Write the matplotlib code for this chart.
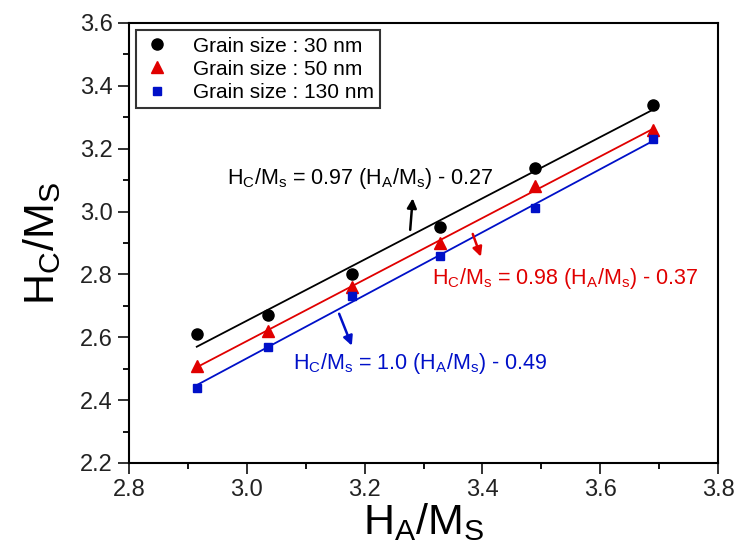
import numpy as np
import matplotlib
matplotlib.use("Agg")
import matplotlib.pyplot as plt

plt.rcParams['font.family'] = ['Liberation Sans', 'DejaVu Sans']
plt.rcParams['mathtext.fontset'] = 'custom'
plt.rcParams['mathtext.rm'] = 'Liberation Sans'
plt.rcParams['mathtext.it'] = 'Liberation Sans:italic'

# data
ha_ms = [2.915, 3.036, 3.179, 3.328, 3.489, 3.69]
hc_30 = [2.61, 2.67, 2.80, 2.95, 3.14, 3.34]
hc_50 = [2.51, 2.62, 2.76, 2.90, 3.08, 3.26]
hc_130 = [2.44, 2.57, 2.73, 2.86, 3.01, 3.23]

labels = ['Grain size : 30 nm', 'Grain size : 50 nm', 'Grain size : 130 nm']
fit_texts = [r'$\mathrm{H_C/M_s}$ = 0.97 ($\mathrm{H_A/M_s}$) - 0.27',
             r'$\mathrm{H_C/M_s}$ = 0.98 ($\mathrm{H_A/M_s}$) - 0.37',
             r'$\mathrm{H_C/M_s}$ = 1.0 ($\mathrm{H_A/M_s}$) - 0.49']

fig = plt.figure(figsize=(7.39, 5.55), dpi=100)
ax = fig.add_axes([0.1746, 0.1658, 0.797, 0.7928])

x = np.array(ha_ms)
series = [(hc_30, 'black', 'o', 8), (hc_50, '#e00000', '^', 8), (hc_130, '#0010c8', 's', 6)]
for (ys, c, m, ms), lab in zip(series, labels):
    ax.plot(x, ys, linestyle='none', marker=m, color=c, markersize=ms, label=lab)
    # linear fit line
    k, b = np.polyfit(x, ys, 1)
    ax.plot(x[[0, -1]], k * x[[0, -1]] + b, color=c, linewidth=1.3)

# equations with arrows
fs = 15.5
arr = dict(arrowstyle='-|>', lw=1.8, mutation_scale=14)
ax.annotate('', xy=(3.282, 3.051), xytext=(3.277, 2.933),
            arrowprops=dict(arr, color='black'))
ax.text(2.966, 3.105, fit_texts[0], color='black', fontsize=fs, va='center')

ax.annotate('', xy=(3.399, 2.848), xytext=(3.382, 2.937),
            arrowprops=dict(arr, color='#e00000'))
ax.text(3.314, 2.787, fit_texts[1], color='#e00000', fontsize=fs, va='center', clip_on=False)

ax.annotate('', xy=(3.180, 2.565), xytext=(3.155, 2.683),
            arrowprops=dict(arr, color='#0010c8'))
ax.text(3.078, 2.517, fit_texts[2], color='#0010c8', fontsize=fs, va='center')

ax.set_xlim(2.8, 3.8)
ax.set_ylim(2.2, 3.6)
ax.set_xticks(np.arange(2.8, 3.81, 0.2))
ax.set_yticks(np.arange(2.2, 3.61, 0.2))
ax.set_xticks(np.arange(2.9, 3.8, 0.2), minor=True)
ax.set_yticks(np.arange(2.3, 3.6, 0.2), minor=True)
ax.xaxis.set_major_formatter(matplotlib.ticker.FormatStrFormatter('%.1f'))
ax.yaxis.set_major_formatter(matplotlib.ticker.FormatStrFormatter('%.1f'))
ax.tick_params(which='major', direction='out', length=8, width=1.3, labelsize=17, colors='#222222')
ax.tick_params(which='minor', direction='out', length=4, width=1.3)
ax.tick_params(top=False, right=False, which='both')
for s in ax.spines.values():
    s.set_linewidth(1.5)

ax.set_xlabel(r'$\mathrm{H_A/M_S}$', fontsize=31, labelpad=0)
ax.set_ylabel(r'$\mathrm{H_C/M_S}$', fontsize=31, labelpad=12)

leg = ax.legend(loc='upper left', fontsize=15, frameon=True, fancybox=False,
                edgecolor='black', borderaxespad=0.35, handletextpad=1.0,
                labelspacing=0.2, borderpad=0.3, handlelength=1.4)
leg.get_frame().set_linewidth(1.5)

plt.savefig('out.png', dpi=100)
